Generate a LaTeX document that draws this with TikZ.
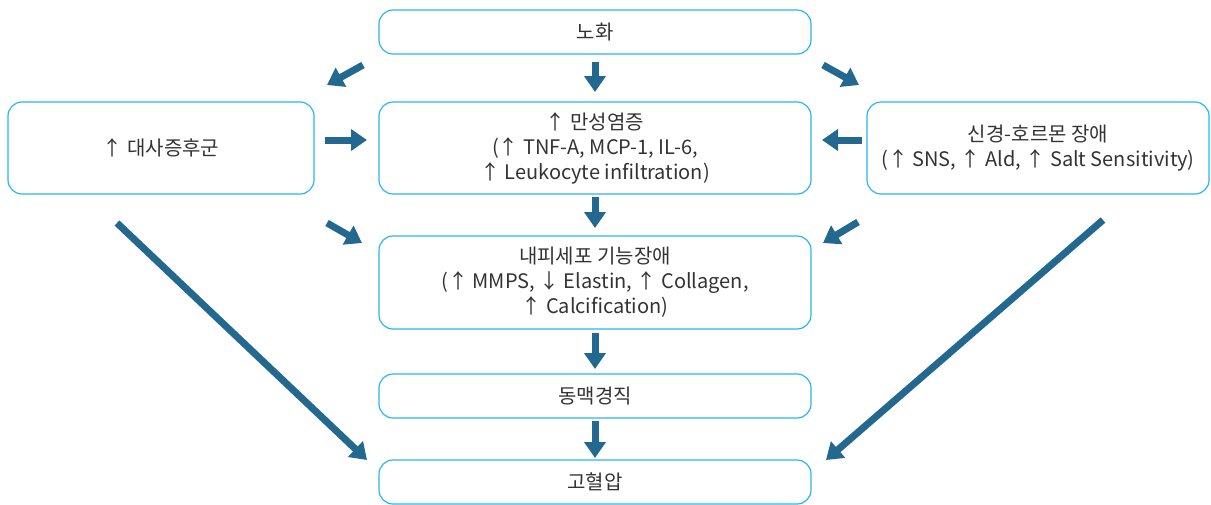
\documentclass[tikz,border=0pt]{standalone}
\usepackage{fontspec}
\setmainfont{Noto Sans CJK KR}
\usetikzlibrary{arrows.meta,positioning}
\definecolor{boxline}{HTML}{29B6EE}
\definecolor{arrblue}{HTML}{23688F}
\definecolor{txt}{HTML}{333333}

\begin{document}
\begin{tikzpicture}[x=1pt,y=1pt,
node distance=42pt and 65pt,
box/.style={draw=boxline, line width=1.2pt, rounded corners=14pt, align=center, minimum height=44pt, minimum width=432pt, inner sep=0pt, outer sep=0pt, text=txt, font=\fontsize{20}{25}\selectfont},
tall/.style={box, minimum height=92pt},
arr/.style={draw=arrblue, line width=7pt, -{Triangle[length=16pt,width=21pt]}}
]
\useasboundingbox (0,0) rectangle (1211,-504);
\node[box] (aging) at (595,-32) {노화};
\node[tall, below=48pt of aging] (inflam) {↑ 만성염증\\(↑ TNF-A, MCP-1, IL-6,\\↑ Leukocyte infiltration)};
\node[tall, minimum width=306pt, left=65pt of inflam] (meta) {↑ 대사증후군};
\node[tall, minimum width=342pt, right=56pt of inflam] (neuro) {신경-호르몬 장애\\(↑ SNS, ↑ Ald, ↑ Salt Sensitivity)};
\node[tall, minimum height=93pt, below=of inflam] (endo) {내피세포 기능장애\\(↑ MMPS, ↓ Elastin, ↑ Collagen,\\↑ Calcification)};
\node[box, below=45pt of endo] (stiff) {동맥경직};
\node[box, below=of stiff] (hyper) {고혈압};
\draw[arr, shorten <=8pt, shorten >=10pt] (aging) -- (inflam);
\draw[arr] ([xshift=-16pt,yshift=-11pt]aging.south west) -- ([xshift=13pt,yshift=17pt]meta.north east);
\draw[arr] ([xshift=12pt,yshift=-11pt]aging.south east) -- ([xshift=-8pt,yshift=17pt]neuro.north west);
\draw[arr, shorten <=11pt, shorten >=12pt] ([yshift=8pt]meta.east) -- ([yshift=8pt]inflam.west);
\draw[arr, shorten <=5pt, shorten >=11pt] ([yshift=8pt]neuro.west) -- ([yshift=8pt]inflam.east);
\draw[arr, shorten <=3pt, shorten >=8pt] (inflam) -- (endo);
\draw[arr] ([xshift=13pt,yshift=-29pt]meta.south east) -- ([xshift=-17pt,yshift=-7pt]endo.north west);
\draw[arr] ([xshift=-9pt,yshift=-28pt]neuro.south west) -- ([xshift=12pt,yshift=-7pt]endo.north east);
\draw[arr, shorten <=4pt, shorten >=5pt] (endo) -- (stiff);
\draw[arr, shorten <=3pt, shorten >=2pt] (stiff) -- (hyper);
\draw[arr] ([xshift=-44pt,yshift=-29pt]meta.south) -- ([xshift=-12pt]hyper.north west);
\draw[arr] ([xshift=65pt,yshift=-26pt]neuro.south) -- ([xshift=15pt]hyper.north east);
\end{tikzpicture}
\end{document}
